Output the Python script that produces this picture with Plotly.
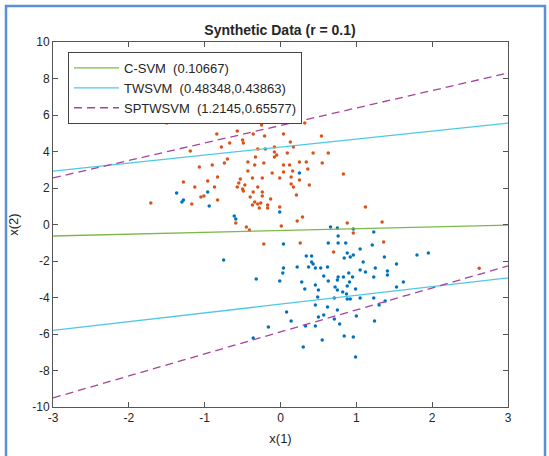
import plotly.graph_objects as go

# ---- data ----
pos_x = [-1.50, -0.82, -0.84, -0.57, -0.25, -0.36, -0.21, 0.04, 0.14, -0.67,
         -0.50, -0.49, -1.19, -0.78, -0.30, -0.20, -0.08, -0.08, -0.05, -0.08,
         0.13, 0.17, 0.32, 0.54, 0.63, 0.43, 0.09, -0.33, -0.70, -0.43,
         -0.22, 0.04, 0.12, 0.25, 0.34, 0.55, -1.07, -0.90, -0.74, -0.34,
         -0.43, -0.11, 0.04, 0.16, 0.36, -0.83, -0.53, -0.37, -0.24, -0.01,
         0.14, 0.25, 0.83, -1.28, -0.96, -0.55, -0.47, 0.14, 0.17, -1.13,
         -0.87, -0.57, -0.50, -0.30, 0.38, -0.49, -0.36, -0.24, -0.24, -1.05,
         -1.01, -0.83, -0.40, -0.13, -0.34, 0.21, -1.71, -1.17, -0.37, -0.30,
         -0.26, -0.28, -0.17, -0.17, -0.01, 0.29, 0.22, -0.45, -0.41, -0.59,
         0.01, 1.12, 0.88, 1.34, 0.96, -0.22, 0.26, 1.36, 0.70, 2.62]
pos_y = [5.56, 6.05, 4.96, 5.12, 5.45, 4.96, 4.85, 4.96, 6.30, 4.47,
         4.63, 4.47, 4.03, 4.25, 4.14, 4.14, 4.25, 3.97, 3.81, 3.70,
         4.52, 4.25, 5.56, 4.85, 3.92, 3.92, 3.92, 3.70, 3.59, 3.42,
         3.37, 3.26, 3.26, 3.42, 3.42, 3.37, 3.15, 3.26, 3.37, 3.26,
         2.93, 2.82, 2.88, 2.93, 3.04, 2.60, 2.49, 2.55, 2.55, 2.55,
         2.60, 2.44, 2.77, 2.33, 2.38, 2.27, 2.16, 2.22, 2.05, 2.05,
         2.05, 2.05, 1.95, 2.05, 2.16, 1.84, 1.78, 1.78, 1.56, 1.51,
         1.56, 1.34, 1.51, 1.40, 1.23, 1.62, 1.18, 1.12, 1.07, 1.12,
         1.18, 0.90, 1.07, 0.90, 0.96, 0.41, 0.19, -0.14, -0.30, 0.08,
         -0.08, 0.96, 0.08, 0.14, -0.47, -1.07, -1.01, -0.96, -1.51, -2.40]

neg_x = [-1.37, -1.30, -1.28, -0.96, -0.94, 0.25, -0.61, -0.59, -0.01, 0.66,
         0.75, 0.96, 0.76, 0.76, 0.86, 0.63, 1.23, 1.21, 0.04, 1.05,
         0.88, 0.92, 0.96, 0.84, 0.34, 0.41, 0.41, 0.43, 0.37, 0.46,
         0.53, 0.62, 1.09, 1.37, 1.53, 1.80, 1.95, 1.25, 0.22, -0.75,
         1.05, 1.12, 0.04, 0.03, 1.41, 1.41, 0.57, 0.76, 0.75, 0.90,
         0.83, 0.95, 1.23, 0.91, -0.01, -0.32, 0.28, 0.63, 1.62, 0.88,
         0.72, 0.75, 0.32, 0.46, 0.50, 0.99, 0.82, 1.53, 0.49, 0.71,
         0.87, 0.88, 0.92, 1.05, 1.23, 1.38, 1.30, 0.46, 0.62, 0.75,
         0.08, 0.57, 0.50, 0.71, 0.14, 1.00, 1.24, 0.78, 0.46, 0.33,
         -0.16, -0.36, 0.84, 0.96, 0.55, 0.30, 0.99]
neg_y = [1.73, 1.23, 1.34, 1.78, 1.01, 2.82, 0.47, 0.30, 0.68, -0.14,
         -0.19, -0.25, -0.63, -1.01, -1.01, -1.01, -0.41, -1.12, -1.07, -1.34,
         -1.56, -1.78, -1.67, -1.84, -1.73, -1.73, -2.05, -2.16, -2.33, -2.38,
         -2.38, -2.33, -2.05, -1.78, -2.16, -1.67, -1.56, -2.38, -2.33, -1.95,
         -2.49, -2.60, -2.38, -2.66, -2.55, -2.77, -2.82, -2.88, -3.04, -2.66,
         -2.88, -2.88, -2.88, -3.15, -3.10, -2.99, -3.15, -3.10, -3.15, -3.37,
         -3.42, -3.59, -3.53, -3.32, -3.59, -3.53, -3.70, -3.42, -3.97, -4.03,
         -3.81, -4.08, -4.08, -4.03, -4.03, -4.19, -4.41, -4.41, -4.52, -4.68,
         -4.79, -4.96, -5.07, -5.18, -5.29, -5.01, -5.29, -5.45, -5.56, -5.56,
         -5.62, -6.22, -6.11, -6.16, -6.33, -6.71, -7.26]

line_x = [-3, 3]
csvm_y = [-0.63, -0.03]
tw_up_y = [2.93, 5.55]
tw_lo_y = [-5.80, -2.93]
spt_up_y = [2.55, 8.30]
spt_lo_y = [-9.50, -2.27]

legend_names = ["C-SVM  (0.10667)", "TWSVM  (0.48348,0.43863)", "SPTWSVM  (1.2145,0.65577)"]
x_ticks = [-3, -2, -1, 0, 1, 2, 3]
y_ticks = [-10, -8, -6, -4, -2, 0, 2, 4, 6, 8, 10]

ORANGE = "#D95319"
BLUE = "#0072BD"
GREEN = "#7CB94A"
CYAN = "#4DC8E8"
MAG = "#A8439A"
FONT = "Liberation Sans, Arial"

fig = go.Figure()
fig.add_trace(go.Scatter(x=pos_x, y=pos_y, mode="markers", showlegend=False,
                         marker=dict(color=ORANGE, size=3.5, line=dict(width=0))))
fig.add_trace(go.Scatter(x=neg_x, y=neg_y, mode="markers", showlegend=False,
                         marker=dict(color=BLUE, size=3.5, line=dict(width=0))))

fig.add_trace(go.Scatter(x=line_x, y=csvm_y, mode="lines", name=legend_names[0],
                         line=dict(color=GREEN, width=1.3)))
fig.add_trace(go.Scatter(x=line_x, y=tw_up_y, mode="lines", name=legend_names[1],
                         legendgroup="tw", line=dict(color=CYAN, width=1.3)))
fig.add_trace(go.Scatter(x=line_x, y=tw_lo_y, mode="lines", showlegend=False,
                         legendgroup="tw", line=dict(color=CYAN, width=1.3)))
fig.add_trace(go.Scatter(x=line_x, y=spt_up_y, mode="lines", name=legend_names[2],
                         legendgroup="spt", line=dict(color=MAG, width=1.3, dash="8px,5px")))
fig.add_trace(go.Scatter(x=line_x, y=spt_lo_y, mode="lines", showlegend=False,
                         legendgroup="spt", line=dict(color=MAG, width=1.3, dash="8px,5px")))

L, R, T, B = 53, 41, 42, 49
W, H = 549, 456
pw, ph = W - L - R, H - T - B

def px(xp):
    return (xp - L) / pw

def py(yp):
    return 1 - (yp - T) / ph

axis_common = dict(showgrid=False, zeroline=False, showline=True, linecolor="#555555",
                   linewidth=1, mirror="ticks", ticks="inside", ticklen=5,
                   tickcolor="#555555", tickfont=dict(family=FONT, size=12, color="#262626"))

fig.update_xaxes(range=[-3, 3], tickvals=x_ticks, ticktext=[str(v) for v in x_ticks],
                 title=dict(text="x(1)", standoff=9,
                            font=dict(family=FONT, size=13, color="#262626")),
                 **axis_common)
fig.update_yaxes(range=[-10, 10], tickvals=y_ticks, ticktext=[str(v) for v in y_ticks],
                 title=dict(text="x(2)", standoff=10,
                            font=dict(family=FONT, size=13, color="#262626")),
                 **axis_common)

fig.update_layout(
    width=W, height=H,
    margin=dict(l=L, r=R, t=T, b=B),
    paper_bgcolor="white", plot_bgcolor="white",
    title=dict(text="<b>Synthetic Data (r = 0.1)</b>", x=px(280), xanchor="center",
               y=1 - 30 / H, yanchor="middle", yref="container", xref="paper",
               font=dict(family=FONT, size=14, color="#262626")),
    legend=dict(x=px(68), y=py(52), xanchor="left", yanchor="top",
                bgcolor="white", bordercolor="#444444", borderwidth=1,
                font=dict(family=FONT, size=13, color="#262626"),
                tracegroupgap=0, itemwidth=45),
    shapes=[
        dict(type="line", xref="paper", yref="paper", x0=px(6), x1=px(6),
             y0=py(5), y1=py(460), line=dict(color="#5B8FD6", width=2.5)),
        dict(type="line", xref="paper", yref="paper", x0=px(5), x1=px(546),
             y0=py(6), y1=py(6), line=dict(color="#5B8FD6", width=2.5)),
        dict(type="line", xref="paper", yref="paper", x0=px(545), x1=px(545),
             y0=py(5), y1=py(460), line=dict(color="#5B8FD6", width=2.5)),
    ],
)

fig.write_html("out.html", config={"displayModeBar": False},
               post_script="document.body.style.margin='0px';document.body.style.overflow='hidden';")
